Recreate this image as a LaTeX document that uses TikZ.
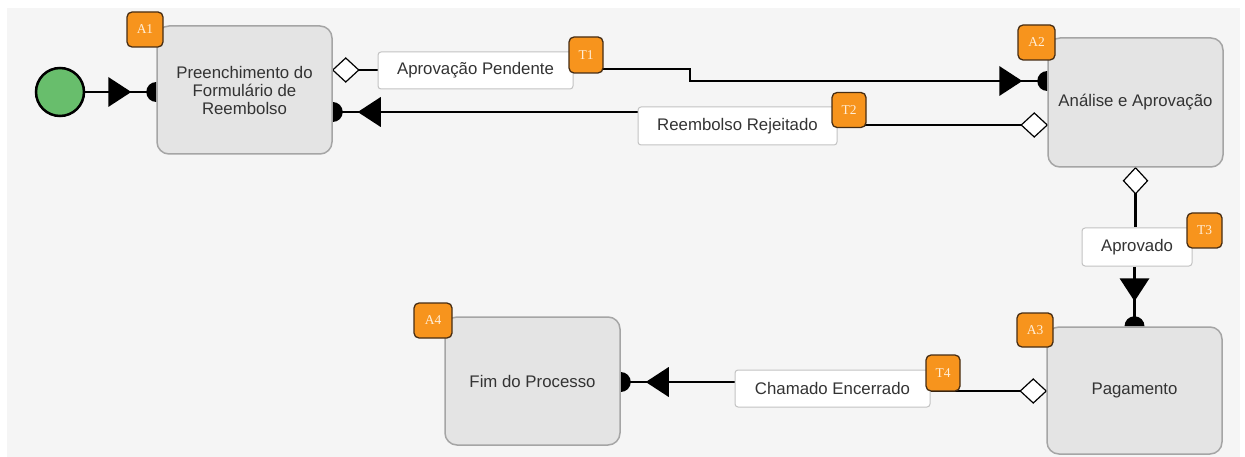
\documentclass[tikz,border=0pt]{standalone}
\usepackage{fontspec}
\setmainfont{Liberation Sans}
\newfontfamily\badgefont{Liberation Serif}
\usetikzlibrary{calc}
\pgfdeclarelayer{back}
\pgfdeclarelayer{bg}
\pgfsetlayers{back,bg,main}
\definecolor{bgc}{RGB}{245,245,245}
\definecolor{boxfill}{RGB}{228,228,228}
\definecolor{boxborder}{RGB}{165,165,165}
\definecolor{lblborder}{RGB}{195,195,195}
\definecolor{txt}{RGB}{51,51,51}
\definecolor{badgefill}{RGB}{247,148,29}
\definecolor{badgeborder}{RGB}{70,45,20}
\definecolor{badgetext}{RGB}{255,238,215}
\definecolor{startgreen}{RGB}{104,190,108}
\tikzset{
  act/.style={draw=boxborder, line width=1.5, fill=boxfill, rounded corners=12,
    minimum width=175, minimum height=128, inner sep=0, align=center, text=txt,
    font=\fontsize{16.8}{18}\selectfont},
  lbl/.style={draw=lblborder, line width=1, fill=white, rounded corners=3,
    minimum height=37, inner sep=0, text=txt, font=\fontsize{16.8}{18}\selectfont},
  badge/.style={draw=badgeborder, line width=1.3, fill=badgefill, rounded corners=5,
    minimum width=35, minimum height=35, inner sep=0, text=badgetext,
    font=\badgefont\fontsize{13.5}{14}\selectfont},
  conn/.style={line width=2.6, black},
  diam/.pic={\draw[draw=black, fill=white, line width=1.2] (0,0) -- (-13,-12) -- (-26,0) -- (-13,12) -- cycle;},
  endtip/.pic={\fill[black] (0,-10) arc[start angle=-90, end angle=-270, radius=10] -- cycle;
    \fill[black] (-25,0) -- (-48,-15) -- (-48,15) -- cycle;}
}
\begin{document}
\begin{tikzpicture}[x=1pt,y=-1pt]
\useasboundingbox (0,0) rectangle (1245,457);
\begin{pgfonlayer}{back}
  \fill[white] (0,0) rectangle (1245,457);
  \fill[bgc] (7,8) rectangle (1240,457);
\end{pgfonlayer}

% activities
\node[circle, draw=black, line width=2.5, fill=startgreen, minimum size=48, inner sep=0] (start) at (60,92) {};
\node[act] (A1) at (244.5,90) {Preenchimento do\\Formulário de\\Reembolso};
\node[act, minimum height=129] (A2) at (1135.5,102.5) {Análise e Aprovação};
\node[act, minimum height=127] (A3) at (1134.5,390.5) {Pagamento};
\node[act] (A4) at (532.5,381) {Fim do Processo};

% labels
\node[lbl, minimum width=195] (L1) at (475.5,70.5) {Aprovação Pendente};
\node[lbl, minimum width=199, minimum height=38] (L2) at (737.5,126) {Reembolso Rejeitado};
\node[lbl, minimum width=110, minimum height=38] (L3) at (1137,247) {Aprovado};
\node[lbl, minimum width=195] (L4) at (832.5,388.5) {Chamado Encerrado};

% badges
\node[badge, minimum width=36] (bA1) at (145,29.5) {A1};
\node[badge, minimum width=37] (bA2) at (1036.5,42.5) {A2};
\node[badge, minimum width=36, minimum height=34] (bA3) at (1035,330) {A3};
\node[badge, minimum width=38] (bA4) at (433,320.5) {A4};
\node[badge, minimum width=34, minimum height=36] (bT1) at (586,55) {T1};
\node[badge, minimum width=34] (bT2) at (849,110) {T2};
\node[badge, minimum width=35] (bT3) at (1204.5,230.5) {T3};
\node[badge, minimum width=34, minimum height=36] (bT4) at (943,373) {T4};

% connectors
\begin{pgfonlayer}{bg}
  \draw[conn] (start) -- (A1.west |- start);
  \pic at (A1.west |- start) {endtip};

  \draw[conn] (A1.east |- 0,70) -- (L1.west |- 0,70);
  \draw[conn] (L1.east |- 0,69) -- (690,69) -- (690,81) -- (A2.west |- 0,81);
  \pic[rotate=180] at (A1.east |- 0,70) {diam};
  \pic at (A2.west |- 0,81) {endtip};

  \draw[conn] (A2.west |- 0,125) -- (L2.east |- 0,125);
  \draw[conn] (L2.west |- 0,112) -- (A1.east |- 0,112);
  \pic at (A2.west |- 0,125) {diam};
  \pic[rotate=180] at (A1.east |- 0,112) {endtip};

  \draw[conn] (A2.south) -- (A2.south |- L3.north);
  \draw[conn] (L3.south -| A3.north) -- (A3.north);
  \pic[rotate=90] at (A2.south) {diam};
  \pic[rotate=-90] at (A3.north) {endtip};

  \draw[conn] (A3.west |- 0,391) -- (L4.east |- 0,391);
  \draw[conn] (L4.west |- 0,382) -- (A4.east |- 0,382);
  \pic at (A3.west |- 0,391) {diam};
  \pic[rotate=180] at (A4.east |- 0,382) {endtip};
\end{pgfonlayer}
\end{tikzpicture}
\end{document}
